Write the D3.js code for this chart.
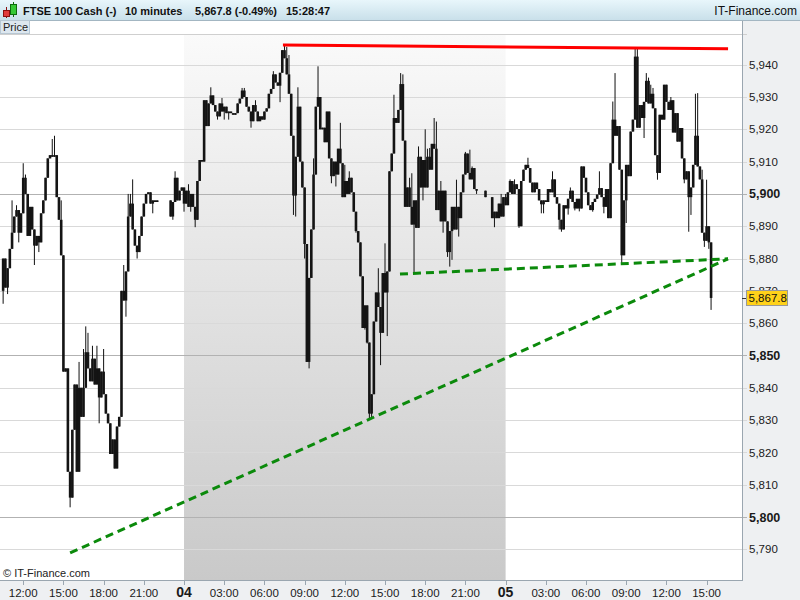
<!DOCTYPE html>
<html>
<head>
<meta charset="utf-8">
<script src="https://cdn.jsdelivr.net/npm/d3@7"></script>
<style>
body { margin: 0; background: #fff; }
svg { display: block; font-family: "Liberation Sans", Arial, sans-serif; }
</style>
</head>
<body>
<svg width="800" height="600"></svg>
<script>
// ---- data (10 minute candles) ----
var firstCandle = new Date(2012, 9, 3, 10, 30);
var firstOpen = 5870;
var closes = [
    5880, 5871, 5877, 5883, 5888, 5893, 5895, 5888, 5894, 5905,
    5900, 5887, 5896, 5889, 5884, 5887, 5885, 5894, 5898, 5905,
    5911, 5912, 5911.5, 5912, 5899, 5892, 5881, 5845, 5846, 5814,
    5806, 5827, 5841, 5814, 5840, 5831, 5840, 5851, 5846, 5842,
    5849, 5841, 5846, 5837, 5845, 5838, 5832, 5829, 5819.5, 5824,
    5815, 5828, 5831, 5870, 5867, 5876, 5893, 5897, 5889, 5884,
    5882, 5887, 5893, 5897, 5900, 5900.5, 5897, 5898, 5897.5, 5898,
    null, null, null, null, null, 5893, 5897.5, 5905, 5898, 5901,
    5902, 5897, 5901, 5896, 5900, 5896, 5892, 5904, 5910.5, 5910,
    5929, 5921, 5928, 5930.5, 5927.5, 5925.5, 5924, 5928, 5925.5, 5927,
    5925, 5925.5, 5925, 5924.5, 5925, 5928, 5929.5, 5932, 5930, 5927,
    5925.5, 5922.5, 5927.5, 5925.5, 5922.5, 5924, 5923, 5925.5, 5926.5, 5931,
    5932.5, 5937, 5934.5, 5933.5, 5937.5, 5944.5, 5942, 5937, 5931, 5918,
    5899.5, 5911.5, 5927, 5910, 5902, 5884.5, 5848, 5874, 5889, 5906,
    5927, 5930, 5920, 5920.5, 5916, 5925.5, 5911, 5905.5, 5910, 5906,
    5914, 5909.5, 5899, 5904, 5900, 5905, 5900.5, 5894.5, 5888.5, 5885,
    5874.5, 5858.5, 5865.5, 5854, 5832, 5838, 5860.5, 5869.5, 5865, 5857,
    5875.5, 5869.5, 5876, 5907, 5912.5, 5923.5, 5922, 5926, 5934, 5916.5,
    5896, 5902, 5896, 5890.5, 5898, 5889.5, 5911.5, 5902, 5910.5, 5902,
    5911.5, 5907.5, 5915.5, 5914, 5895, 5901, 5891.5, 5901, 5891.5, 5882,
    5888.5, 5896, 5889, 5896, 5892.5, 5900.5, 5906, 5912.5, 5906.5, 5904.5,
    5908, 5901.5, 5901, null, null, null, 5899, null, null, 5892.5,
    5894.5, 5892.5, 5897, 5893, 5899, 5896.5, 5900.5, 5904, 5900, 5903,
    5901.5, 5890, 5904, 5907.5, 5909, 5908, 5903.5, 5900.5, 5903.5, 5901.5,
    5898, 5896.8, 5898, 5897.5, 5901.5, 5900.5, 5904.5, 5899, 5897, 5892,
    5889, 5896.5, 5895.5, 5898.5, 5901, 5897.5, 5895.5, 5898.5, 5895.5, 5908.5,
    5905, 5900.5, 5896.5, 5895, 5897.5, 5898.5, 5899.8, 5901.8, 5899, 5896,
    5901.5, 5892.5, 5909.5, 5923, 5918, 5921, 5907.5, 5881, 5898, 5909,
    5905.5, 5919.3, 5923, 5942.5, 5920.5, 5927.5, 5923.5, 5928.5, 5935, 5928,
    5931, 5926.5, 5912, 5906.5, 5924.5, 5923, 5933.8, 5928.5, 5926, 5929,
    5919, 5925, 5916.2, 5920.4, 5911, 5904.5, 5907, 5899, 5902, 5909,
    5918, 5908.5, 5904.5, 5888, 5885.5, 5890, 5885, 5867.8
];
// [candle index, high] where the wick goes above the body
var highWicks = [
    [4, 5898], [6, 5896.5], [9, 5909.5], [10, 5906], [22, 5917], [23, 5918], [26, 5898],
    [34, 5848], [36, 5852], [37, 5859], [38, 5857], [40, 5853], [42, 5853], [45, 5852],
    [54, 5878], [56, 5900], [57, 5900], [58, 5904.5], [77, 5907], [83, 5903], [93, 5933],
    [98, 5929.7], [107, 5932.8], [108, 5932.8], [113, 5929], [121, 5938], [126, 5946],
    [127, 5945.5], [128, 5943], [132, 5933], [139, 5911], [141, 5939.5], [151, 5922],
    [153, 5909], [155, 5907], [168, 5877], [171, 5884.7], [175, 5930.7], [178, 5937.4],
    [179, 5937], [182, 5905], [183, 5906.4], [186, 5914.7], [189, 5920], [190, 5914],
    [191, 5914.2], [193, 5923.5], [194, 5922.4], [196, 5904], [203, 5904.4], [207, 5913],
    [209, 5913.7], [210, 5908.5], [223, 5900], [225, 5900], [227, 5904.5], [229, 5904.5],
    [235, 5911.2], [246, 5907], [254, 5902], [267, 5907], [273, 5928.6], [274, 5937.4],
    [283, 5945], [284, 5945], [288, 5937.4], [289, 5936], [290, 5933.8], [291, 5932.8],
    [292, 5923.5], [299, 5930], [310, 5931], [311, 5931.2], [313, 5907.5], [315, 5904.4]
];
// [candle index, low] where the wick goes below the body
var lowWicks = [
    [0, 5866], [2, 5869], [7, 5885], [14, 5878], [16, 5882], [30, 5803], [43, 5829],
    [55, 5862], [60, 5880], [67, 5894], [76, 5892], [81, 5894.5], [84, 5894.5],
    [86, 5889.7], [96, 5923], [99, 5923], [101, 5923], [111, 5920.5], [124, 5928.4],
    [130, 5893.5], [131, 5893], [135, 5880], [137, 5846], [147, 5903.3], [149, 5902.3],
    [158, 5888], [162, 5858], [163, 5853.7], [164, 5830], [165, 5830.5], [169, 5847],
    [172, 5856], [184, 5875.4], [188, 5898], [197, 5888], [199, 5880.5], [200, 5877.5],
    [201, 5879.6], [204, 5886.8], [212, 5900], [220, 5889.7], [231, 5889.5], [241, 5894],
    [242, 5894], [249, 5889], [250, 5888.3], [253, 5893.6], [256, 5894.9], [258, 5894.6],
    [264, 5894.5], [269, 5894], [277, 5878.6], [279, 5891], [287, 5917.3], [293, 5904.4],
    [305, 5903.3], [307, 5888.3], [308, 5893.5], [314, 5883.6], [316, 5883], [317, 5864.1]
];
var priceTicks = [5790, 5800, 5810, 5820, 5830, 5840, 5850, 5860, 5870, 5880, 5890, 5900, 5910, 5920, 5930, 5940];
var majorTicks = [5800, 5850, 5900];
var lastPrice = 5867.8;
var shadedDay = [new Date(2012, 9, 4), new Date(2012, 9, 5)];
var resistance = [[new Date(2012, 9, 4, 7, 23), 5946.1], [new Date(2012, 9, 5, 16, 36), 5944.9]];
var supportLong = [[new Date(2012, 9, 3, 15, 30), 5788.9], [new Date(2012, 9, 5, 16, 36), 5879.9]];
var supportShort = [[new Date(2012, 9, 4, 16, 7), 5875.2], [new Date(2012, 9, 5, 16, 36), 5879.9]];
var headerTexts = ["FTSE 100 Cash (-)", "10 minutes", "5,867.8 (-0.49%)", "15:28:47"];

// ---- layout ----
var plotRight = 742, plotTop = 34, plotBottom = 580;
var svg = d3.select("svg");

var x = d3.scaleTime()
    .domain([new Date(2012, 9, 3, 10, 16), new Date(2012, 9, 5, 17, 38, 30)])
    .range([0, plotRight]);
var y = d3.scaleLinear().domain([5780.5, 5949.5]).range([plotBottom, plotTop]);

var defs = svg.append("defs");
var hg = defs.append("linearGradient").attr("id", "hdr").attr("x1", 0).attr("y1", 0).attr("x2", 0).attr("y2", 1);
hg.append("stop").attr("offset", 0).attr("stop-color", "#e8f6fb");
hg.append("stop").attr("offset", 1).attr("stop-color", "#c9e0ea");
var sg = defs.append("linearGradient").attr("id", "shade").attr("x1", 0).attr("y1", 0).attr("x2", 0).attr("y2", 1);
sg.append("stop").attr("offset", 0).attr("stop-color", "#fafafa");
sg.append("stop").attr("offset", 1).attr("stop-color", "#c9c9c9");
defs.append("clipPath").attr("id", "plotclip")
    .append("rect").attr("x", 0).attr("y", plotTop).attr("width", plotRight).attr("height", plotBottom - plotTop);

// panels
svg.append("rect").attr("x", 0).attr("y", 0).attr("width", 800).attr("height", 600).attr("fill", "#eef0f2");
svg.append("rect").attr("x", 0).attr("y", 20).attr("width", plotRight).attr("height", plotBottom - 20).attr("fill", "#fff");
svg.append("rect").attr("x", x(shadedDay[0])).attr("y", plotTop)
    .attr("width", x(shadedDay[1]) - x(shadedDay[0])).attr("height", plotBottom - plotTop)
    .attr("fill", "url(#shade)");

// grid
svg.append("g").selectAll("line").data(priceTicks).join("line")
    .attr("x1", 0).attr("x2", plotRight + 5)
    .attr("y1", function(d) { return Math.round(y(d)) + 0.5; })
    .attr("y2", function(d) { return Math.round(y(d)) + 0.5; })
    .attr("stroke", function(d) { return majorTicks.indexOf(d) >= 0 ? "#b2b2b2" : "#d9d9d9"; });
svg.append("line").attr("x1", 0).attr("x2", plotRight + 5).attr("y1", plotTop + 0.5).attr("y2", plotTop + 0.5).attr("stroke", "#cfcfcf");

// candles
var candles = [];
var prev = firstOpen;
var hiMap = {}, loMap = {};
highWicks.forEach(function(d) { hiMap[d[0]] = d[1]; });
lowWicks.forEach(function(d) { loMap[d[0]] = d[1]; });
closes.forEach(function(c, i) {
    if (c === null) return;
    var o = prev;
    var hi = Math.max(o, c, hiMap[i] || -Infinity);
    var lo = Math.min(o, c, loMap[i] || Infinity);
    candles.push({t: d3.timeMinute.offset(firstCandle, i * 10), o: o, h: hi, l: lo, c: c});
    prev = c;
});
var cg = svg.append("g").attr("clip-path", "url(#plotclip)");
cg.selectAll(".wick").data(candles).join("line").attr("class", "wick")
    .attr("x1", function(d) { return x(d.t); })
    .attr("x2", function(d) { return x(d.t); })
    .attr("y1", function(d) { return y(d.h); })
    .attr("y2", function(d) { return y(d.l); })
    .attr("stroke", "#111").attr("stroke-width", 1);
cg.selectAll(".body").data(candles).join("rect").attr("class", "body")
    .attr("x", function(d) { return x(d.t) - 1.3; })
    .attr("width", 2.6)
    .attr("y", function(d) { return y(Math.max(d.o, d.c)); })
    .attr("height", function(d) { return Math.max(1, Math.abs(y(d.o) - y(d.c))); })
    .attr("fill", "#141414");

// trend lines
var tl = d3.line().x(function(d) { return x(d[0]); }).y(function(d) { return y(d[1]); });
cg.append("path").attr("d", tl(resistance)).attr("fill", "none").attr("stroke", "#ff0000").attr("stroke-width", 3);
cg.append("path").attr("d", tl(supportLong)).attr("fill", "none").attr("stroke", "#0b8a0b")
    .attr("stroke-width", 3).attr("stroke-dasharray", "8,5");
cg.append("path").attr("d", tl(supportShort)).attr("fill", "none").attr("stroke", "#0b8a0b")
    .attr("stroke-width", 3).attr("stroke-dasharray", "8,5");

// copyright
svg.append("text").attr("x", 3).attr("y", 577).attr("font-size", 11).attr("fill", "#222").text("\u00a9 IT-Finance.com");

// axis borders
svg.append("line").attr("x1", plotRight + 0.5).attr("x2", plotRight + 0.5).attr("y1", 20).attr("y2", plotBottom)
    .attr("stroke", "#9aa6b0");
svg.append("line").attr("x1", 0).attr("x2", plotRight + 1).attr("y1", plotBottom + 0.5).attr("y2", plotBottom + 0.5)
    .attr("stroke", "#9aa6b0");

// right axis labels (the one under the last-price tag stays partly hidden, as in the original)
var ly = Math.round(y(lastPrice));
var ya = svg.append("g");
ya.selectAll("text").data(priceTicks).join("text")
    .attr("x", 749)
    .attr("y", function(d) { return y(d); })
    .attr("dy", "0.36em")
    .attr("font-size", function(d) { return majorTicks.indexOf(d) >= 0 ? 12.5 : 11.5; })
    .attr("font-weight", function(d) { return majorTicks.indexOf(d) >= 0 ? "bold" : "normal"; })
    .attr("fill", "#1a1a1a")
    .text(function(d) { return d3.format(",")(d); });

// last price tag
svg.append("line").attr("x1", plotRight).attr("x2", plotRight + 5).attr("y1", ly + 0.5).attr("y2", ly + 0.5).attr("stroke", "#333");
svg.append("rect").attr("x", 746.5).attr("y", ly - 7.5).attr("width", 41).attr("height", 15)
    .attr("fill", "#ffd21a").attr("stroke", "#999");
svg.append("text").attr("x", 748.5).attr("y", ly).attr("dy", "0.36em").attr("font-size", 11.5).attr("fill", "#111")
    .text(d3.format(",.1f")(lastPrice));

// time axis
var xTicks = d3.timeHour.every(3).range(new Date(2012, 9, 3, 12), new Date(2012, 9, 5, 16));
var xa = svg.append("g");
xa.selectAll("line").data(xTicks).join("line")
    .attr("x1", function(d) { return Math.round(x(d)) + 0.5; })
    .attr("x2", function(d) { return Math.round(x(d)) + 0.5; })
    .attr("y1", plotBottom).attr("y2", plotBottom + 5)
    .attr("stroke", "#9aa6b0");
xa.selectAll("text").data(xTicks).join("text")
    .attr("x", function(d) { return x(d); })
    .attr("y", 597)
    .attr("text-anchor", "middle")
    .attr("font-size", function(d) { return d.getHours() === 0 ? 14 : 11.5; })
    .attr("font-weight", function(d) { return d.getHours() === 0 ? "bold" : "normal"; })
    .attr("fill", "#1a1a1a")
    .text(function(d) { return d.getHours() === 0 ? d3.timeFormat("%d")(d) : d3.timeFormat("%H:%M")(d); });

// header
svg.append("rect").attr("x", 0).attr("y", 0).attr("width", 800).attr("height", 20).attr("fill", "url(#hdr)");
svg.append("line").attr("x1", 0).attr("x2", 800).attr("y1", 20.5).attr("y2", 20.5).attr("stroke", "#a3b6c2");
// candle icon
svg.append("line").attr("x1", 6.5).attr("x2", 6.5).attr("y1", 7).attr("y2", 18).attr("stroke", "#8a1010");
svg.append("rect").attr("x", 3.5).attr("y", 10.5).attr("width", 6).attr("height", 6).attr("fill", "#e23c3c").attr("stroke", "#8a1010");
svg.append("line").attr("x1", 13.5).attr("x2", 13.5).attr("y1", 2).attr("y2", 17).attr("stroke", "#0d6a0d");
svg.append("rect").attr("x", 10.5).attr("y", 4.5).attr("width", 6).attr("height", 10).attr("fill", "#35c935").attr("stroke", "#0d6a0d");
var hx = [23, 125, 195, 286];
svg.append("g").selectAll("text").data(headerTexts).join("text")
    .attr("x", function(d, i) { return hx[i]; })
    .attr("y", 15)
    .attr("font-size", 11).attr("font-weight", "bold").attr("fill", "#111")
    .text(function(d) { return d; });
svg.append("text").attr("x", 797).attr("y", 15).attr("text-anchor", "end")
    .attr("font-size", 12).attr("fill", "#111").text("IT-Finance.com");

// "Price" tab
svg.append("rect").attr("x", 0.5).attr("y", 20.5).attr("width", 29).attr("height", 13)
    .attr("fill", "#dde7ef").attr("stroke", "#b7c7d3");
svg.append("text").attr("x", 3).attr("y", 31).attr("font-size", 11).attr("fill", "#222").text("Price");
</script>
</body>
</html>
